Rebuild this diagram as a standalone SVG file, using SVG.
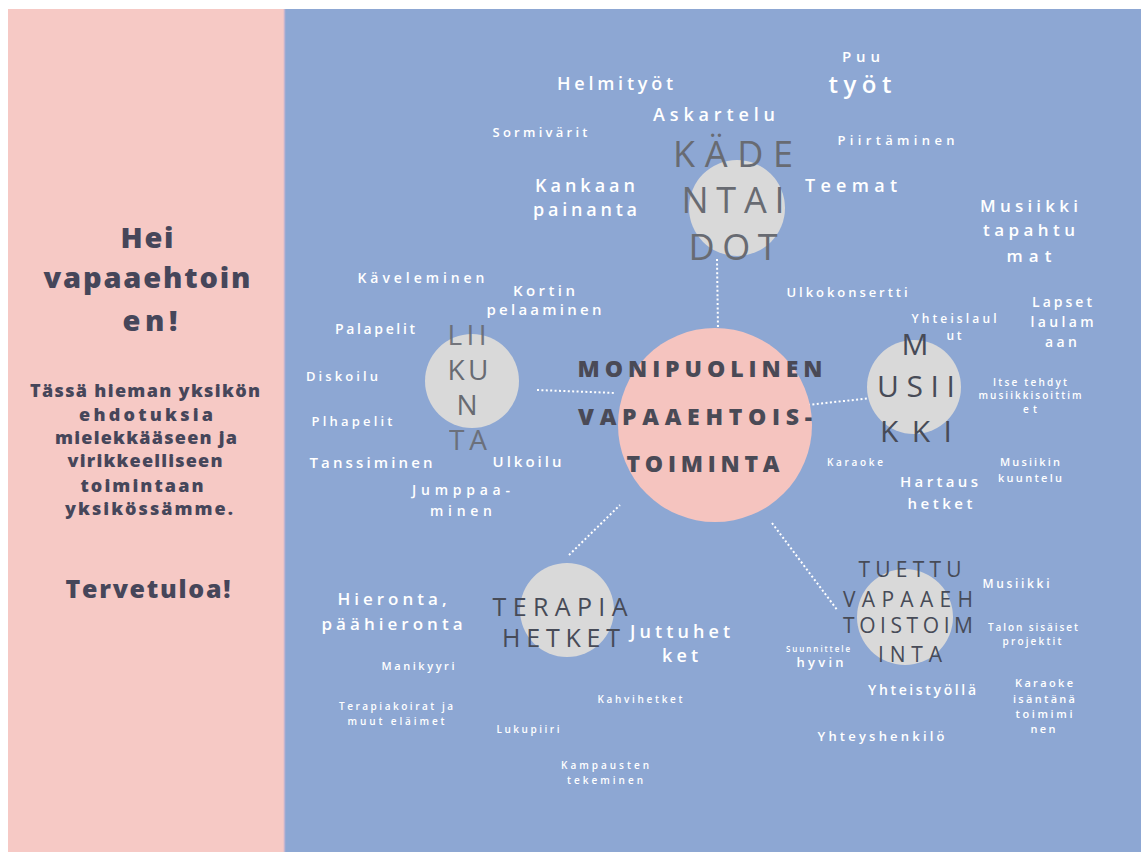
<svg xmlns="http://www.w3.org/2000/svg" width="1141" height="852" viewBox="0 0 1141 852">
<style>
text{font-family:"Open Sans","Liberation Sans",sans-serif;text-anchor:middle}
.w{fill:#ffffff;font-weight:600}
.n{fill:#474b57;font-weight:500}
.g{fill:#686b72;font-weight:500}
.c{fill:#4a4a56;font-weight:800}
.l{fill:#46465a;font-weight:800}
.dot{stroke:#ffffff;stroke-width:2;stroke-dasharray:2 2.4;fill:none}
.gc{fill:#d9d9d9}
</style>
<rect x="0" y="0" width="1141" height="852" fill="#ffffff"/>
<rect x="8" y="9" width="277" height="843" fill="#f6c9c5"/>
<rect x="285" y="9" width="856" height="843" fill="#8da7d3"/>
<line x1="284.5" y1="9" x2="284.5" y2="852" stroke="#c3b4cf" stroke-width="1.5"/>

<g id="intro">
<text class="l" x="147" y="248" font-size="29" textLength="53">Hei</text>
<text class="l" x="147" y="288" font-size="29" textLength="207">vapaaehtoin</text>
<text class="l" x="150" y="331" font-size="29" textLength="55">en!</text>
<text class="l" x="145" y="397" font-size="18" textLength="230">Tässä hieman yksikön</text>
<text class="l" x="146" y="421" font-size="18" textLength="134">ehdotuksia</text>
<text class="l" x="146" y="444" font-size="18" textLength="182">mielekkääseen ja</text>
<text class="l" x="145" y="467" font-size="18" textLength="155">virikkeelliseen</text>
<text class="l" x="142" y="492" font-size="18" textLength="123">toimintaan</text>
<text class="l" x="149" y="515" font-size="18" textLength="168">yksikössämme.</text>
<text class="l" x="148" y="598" font-size="25" textLength="165">Tervetuloa!</text>
</g>

<g id="connectors">
<line class="dot" x1="717" y1="259" x2="718" y2="330"/>
<line class="dot" x1="537" y1="390" x2="615" y2="393"/>
<line class="dot" x1="808" y1="405" x2="880" y2="397"/>
<line class="dot" x1="569" y1="555" x2="620" y2="505"/>
<line class="dot" x1="772" y1="523" x2="838" y2="611"/>
</g>

<g id="node-center">
<circle cx="715" cy="425" r="97" fill="#f5c4bf"/>
<text class="c" x="700" y="377" font-size="23" textLength="245">MONIPUOLINEN</text>
<text class="c" x="695" y="425" font-size="23" textLength="234">VAPAAEHTOIS-</text>
<text class="c" x="703" y="472" font-size="23" textLength="153">TOIMINTA</text>
</g>

<g id="node-kadentaidot">
<circle class="gc" cx="737" cy="208" r="48"/>
<text class="g" x="733" y="167" font-size="36" textLength="120">KÄDE</text>
<text class="g" x="733" y="213" font-size="36" textLength="103">NTAI</text>
<text class="g" x="733" y="260" font-size="36" textLength="89">DOT</text>
</g>
<g id="items-kadentaidot">
<text class="w" x="861" y="62" font-size="15" textLength="38">Puu</text>
<text class="w" x="860" y="93" font-size="24" textLength="63">työt</text>
<text class="w" x="615" y="90" font-size="18" textLength="116">Helmityöt</text>
<text class="w" x="714" y="121" font-size="18" textLength="122">Askartelu</text>
<text class="w" x="540" y="137" font-size="13" textLength="95">Sormivärit</text>
<text class="w" x="896" y="145" font-size="13" textLength="117">Piirtäminen</text>
<text class="w" x="585" y="192" font-size="18" textLength="100">Kankaan</text>
<text class="w" x="585" y="216" font-size="18" textLength="104">painanta</text>
<text class="w" x="851" y="192" font-size="18" textLength="92">Teemat</text>
<text class="w" x="847" y="297" font-size="13" textLength="121">Ulkokonsertti</text>
</g>

<g id="node-liikunta">
<circle class="gc" cx="472" cy="381" r="47"/>
<text class="g" x="467" y="345" font-size="28" textLength="39" opacity="0.9">LII</text>
<text class="g" x="468" y="380" font-size="28" textLength="41">KU</text>
<text class="g" x="467" y="415" font-size="28">N</text>
<text class="g" x="468" y="450" font-size="28" textLength="38" opacity="0.9">TA</text>
</g>
<g id="items-liikunta">
<text class="w" x="544" y="296" font-size="15" textLength="62">Kortin</text>
<text class="w" x="544" y="315" font-size="15" textLength="115">pelaaminen</text>
<text class="w" x="421" y="283" font-size="14" textLength="127">Käveleminen</text>
<text class="w" x="375" y="334" font-size="14" textLength="80">Palapelit</text>
<text class="w" x="342" y="381" font-size="13" textLength="72">Diskoilu</text>
<text class="w" x="352" y="426" font-size="13" textLength="81">Plhapelit</text>
<text class="w" x="371" y="468" font-size="15" textLength="123">Tanssiminen</text>
<text class="w" x="527" y="467" font-size="15" textLength="69">Ulkoilu</text>
<text class="w" x="461" y="495" font-size="14" textLength="98">Jumppaa-</text>
<text class="w" x="461" y="516" font-size="14" textLength="62">minen</text>
</g>

<g id="node-musiikki">
<circle class="gc" cx="914" cy="387" r="47"/>
<text class="n" x="915" y="355" font-size="30">M</text>
<text class="n" x="916" y="397" font-size="30" textLength="78">USII</text>
<text class="n" x="916" y="442" font-size="30" textLength="72">KKI</text>
</g>
<g id="items-musiikki">
<text class="w" x="1029" y="212" font-size="17" textLength="98">Musiikki</text>
<text class="w" x="1029" y="236" font-size="17" textLength="92">tapahtu</text>
<text class="w" x="1029" y="262" font-size="17" textLength="45">mat</text>
<text class="w" x="1062" y="307" font-size="14" textLength="60">Lapset</text>
<text class="w" x="1062" y="327" font-size="14" textLength="63">laulam</text>
<text class="w" x="1061" y="347" font-size="14" textLength="32">aan</text>
<text class="w" x="954" y="323" font-size="12" textLength="85">Yhteislaul</text>
<text class="w" x="954" y="340" font-size="12" textLength="15">ut</text>
<text class="w" x="1030" y="386" font-size="10" textLength="74">Itse tehdyt</text>
<text class="w" x="1030" y="399" font-size="10" textLength="103">musiikkisoittim</text>
<text class="w" x="1030" y="413" font-size="10" textLength="14">et</text>
<text class="w" x="855" y="466" font-size="10" textLength="56">Karaoke</text>
<text class="w" x="939" y="487" font-size="15" textLength="78">Hartaus</text>
<text class="w" x="940" y="509" font-size="15" textLength="65">hetket</text>
<text class="w" x="1030" y="466" font-size="11" textLength="60">Musiikin</text>
<text class="w" x="1030" y="482" font-size="11" textLength="64">kuuntelu</text>
</g>

<g id="node-terapiahetket">
<circle class="gc" cx="567" cy="610" r="47"/>
<text class="n" x="560" y="616" font-size="25" textLength="135">TERAPIA</text>
<text class="n" x="561" y="647" font-size="25" textLength="118">HETKET</text>
</g>
<g id="items-terapiahetket">
<text class="w" x="392" y="605" font-size="17" textLength="109">Hieronta,</text>
<text class="w" x="392" y="630" font-size="17" textLength="141">päähieronta</text>
<text class="w" x="418" y="670" font-size="11" textLength="73">Manikyyri</text>
<text class="w" x="396" y="710" font-size="10" textLength="114">Terapiakoirat ja</text>
<text class="w" x="396" y="725" font-size="10" textLength="97">muut eläimet</text>
<text class="w" x="680" y="638" font-size="18" textLength="100">Juttuhet</text>
<text class="w" x="680" y="662" font-size="18" textLength="36">ket</text>
<text class="w" x="640" y="703" font-size="10" textLength="85">Kahvihetket</text>
<text class="w" x="528" y="733" font-size="10" textLength="63">Lukupiiri</text>
<text class="w" x="605" y="769" font-size="10" textLength="88">Kampausten</text>
<text class="w" x="605" y="784" font-size="10" textLength="76">tekeminen</text>
</g>

<g id="node-tuettu">
<circle class="gc" cx="905" cy="617" r="48"/>
<text class="n" x="910" y="577" font-size="21" textLength="103">TUETTU</text>
<text class="n" x="908" y="607" font-size="21" textLength="130">VAPAAEH</text>
<text class="n" x="908" y="633" font-size="21" textLength="130">TOISTOIM</text>
<text class="n" x="910" y="662" font-size="21" textLength="64">INTA</text>
</g>
<g id="items-tuettu">
<text class="w" x="1016" y="588" font-size="12" textLength="67">Musiikki</text>
<text class="w" x="1033" y="631" font-size="10" textLength="90">Talon sisäiset</text>
<text class="w" x="1032" y="645" font-size="10" textLength="59">projektit</text>
<text class="w" x="818" y="652" font-size="8" textLength="64">Suunnittele</text>
<text class="w" x="820" y="667" font-size="13" textLength="47">hyvin</text>
<text class="w" x="922" y="695" font-size="14" textLength="108">Yhteistyöllä</text>
<text class="w" x="1044" y="687" font-size="11" textLength="58">Karaoke</text>
<text class="w" x="1044" y="703" font-size="11" textLength="62">isäntänä</text>
<text class="w" x="1044" y="718" font-size="11" textLength="57">toimimi</text>
<text class="w" x="1043" y="733" font-size="11" textLength="25">nen</text>
<text class="w" x="881" y="741" font-size="13" textLength="127">Yhteyshenkilö</text>
</g>
</svg>
